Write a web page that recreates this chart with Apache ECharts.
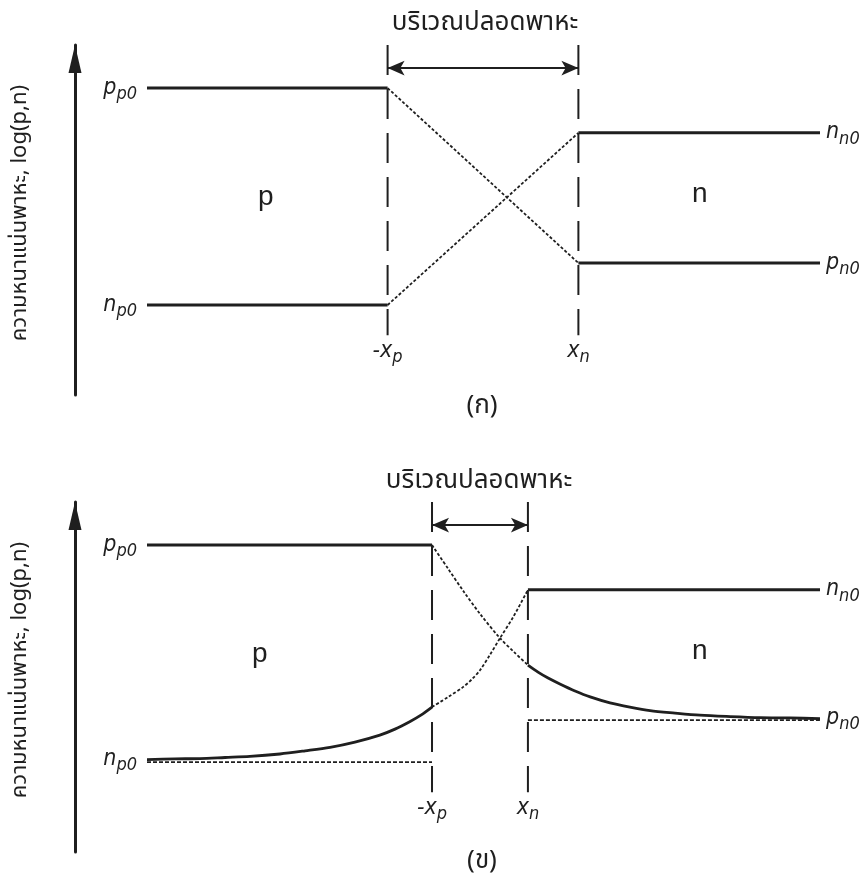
<!DOCTYPE html>
<html><head><meta charset="utf-8">
<script src="https://cdn.jsdelivr.net/npm/echarts@6/dist/echarts.min.js"></script>
<style>html,body{margin:0;padding:0;background:#fff}#c{width:864px;height:876px}</style>
</head><body><div id="c"></div>
<script>
// ---------------- data (x: position units, y: log-concentration units) ----------------
const xRange = [-10, 10];
const yRange = [0, 100];
const panelLabels = ['(ก)', '(ข)'];
const regionTitle = 'บริเวณปลอดพาหะ';
const yAxisTitle = 'ความหนาแน่นพาหะ, log(p,n)';
const levelNames = ['pp0', 'nn0', 'pn0', 'np0'];
const levelValues = [87.7, 74.9, 37.7, 25.7];       // p_p0, n_n0, p_n0, n_p0
const edgesA = [-2.85, 2.82];                        // -x_p, x_n  (panel ก)
const edgesB = [-1.53, 1.32];                        // -x_p, x_n  (panel ข)
const markerLevels = [100, 17.1, 93.4];              // boundary line top, bottom, arrow level
// panel ข: injected minority electrons on the p side
const npCurveX = [-10, -9.17, -8.43, -7.68, -6.94, -6.05, -5.30, -4.56, -3.82, -3.08, -2.63, -2.18, -1.86, -1.53];
const npCurveY = [26.4, 26.6, 26.7, 27.0, 27.3, 28.0, 28.9, 29.9, 31.4, 33.4, 35.1, 37.3, 39.1, 41.4];
// panel ข: injected minority holes on the n side
const pnCurveX = [1.32, 1.62, 1.92, 2.27, 2.72, 3.17, 3.76, 4.35, 4.95, 5.69, 6.43, 7.33, 8.22, 9.11, 10];
const pnCurveY = [53.4, 51.4, 49.7, 48.0, 46.0, 44.3, 42.6, 41.4, 40.4, 39.7, 39.1, 38.7, 38.4, 38.3, 38.1];
// panel ข: inside the depletion region
const pDeplX = [-1.53, -1.05, -0.58, -0.10, 0.49, 0.91, 1.32];
const pDeplY = [87.7, 80.9, 74.3, 68.0, 61.1, 57.1, 53.4];
const nDeplX = [-1.53, -1.05, -0.61, -0.34, -0.10, 0.19, 0.49, 0.88, 1.32];
const nDeplY = [41.4, 44.3, 47.1, 49.4, 52.0, 56.3, 61.1, 67.1, 74.9];

// ---------------- styles ----------------
const INK = '#1f1f1f';
const F = '"Liberation Sans Narrow","DejaVu Sans Condensed","Liberation Sans",sans-serif';
const FS = '"Liberation Sans","DejaVu Sans",sans-serif';
const THAI = '"Noto Sans Thai","Noto Sans Thai Looped","Loma","Garuda","Norasi","Tlwg Typo","Noto Sans",sans-serif';
const solid = {color: INK, width: 3, type: 'solid'};
const curveStyle = {color: INK, width: 2.8, type: 'solid'};
const dotted = {color: INK, width: 1.8, type: [3, 2]};
const fineDash = {color: INK, width: 1.8, type: [4, 2]};
const longDash = {color: INK, width: 2, type: [30, 14]};
const rich = {
  b: {fontSize: 23, fontStyle: 'italic', fontFamily: F, color: INK, lineHeight: 24, verticalAlign: 'top'},
  s: {fontSize: 18, fontStyle: 'italic', fontFamily: F, color: INK, lineHeight: 18, verticalAlign: 'top', padding: [9, 0, 0, 0]}
};
function sym(main, sub) { return '{b|' + main + '}{s|' + sub + '}'; }
const labelText = {pp0: sym('p', 'p0'), nn0: sym('n', 'n0'), pn0: sym('p', 'n0'), np0: sym('n', 'p0')};
const L = {};
levelNames.forEach((k, i) => L[k] = levelValues[i]);

function zip(xs, ys) { return xs.map((x, i) => [x, ys[i]]); }
function pt(x, y, label) {
  const d = {value: [x, y]};
  if (label) d.label = Object.assign({show: true, rich: rich}, label);
  return d;
}
function line(g, data, style, extra) {
  return Object.assign({
    type: 'line', xAxisIndex: g, yAxisIndex: g, data: data,
    symbol: 'circle', symbolSize: 0, showSymbol: true, itemStyle: {color: 'rgba(0,0,0,0)'},
    lineStyle: style, silent: true, animation: false, z: 3,
    label: {show: false}
  }, extra || {});
}
function boundary(g, x, text, arrowTo) {
  const s = line(g, [pt(x, markerLevels[0]), pt(x, markerLevels[1], {position: 'bottom', distance: 4, formatter: text})], longDash);
  if (arrowTo !== undefined) {
    s.markLine = {
      silent: true, animation: false, symbol: ['arrow', 'arrow'], symbolSize: [11, 17],
      lineStyle: {type: 'solid', color: INK, width: 2}, label: {show: false},
      data: [[{coord: [x, markerLevels[2]]}, {coord: [arrowTo, markerLevels[2]]}]]
    };
  }
  return s;
}
const smoothOpt = {smooth: 0.3};

const series = [];
// ---- panel ก ----
series.push(line(0, [pt(xRange[0], L.pp0, {position: 'left', distance: 10, formatter: labelText.pp0}), pt(edgesA[0], L.pp0)], solid));
series.push(line(0, [pt(xRange[0], L.np0, {position: 'left', distance: 10, formatter: labelText.np0}), pt(edgesA[0], L.np0)], solid));
series.push(line(0, [pt(edgesA[1], L.nn0), pt(xRange[1], L.nn0, {position: 'right', distance: 6, formatter: labelText.nn0})], solid));
series.push(line(0, [pt(edgesA[1], L.pn0), pt(xRange[1], L.pn0, {position: 'right', distance: 6, formatter: labelText.pn0})], solid));
series.push(line(0, [pt(edgesA[0], L.pp0), pt(edgesA[1], L.pn0)], dotted));
series.push(line(0, [pt(edgesA[0], L.np0), pt(edgesA[1], L.nn0)], dotted));
series.push(boundary(0, edgesA[0], sym('-x', 'p'), edgesA[1]));
series.push(boundary(0, edgesA[1], sym('x', 'n')));
// ---- panel ข ----
series.push(line(1, [pt(xRange[0], L.pp0, {position: 'left', distance: 10, formatter: labelText.pp0}), pt(edgesB[0], L.pp0)], solid));
series.push(line(1, [pt(edgesB[1], L.nn0), pt(xRange[1], L.nn0, {position: 'right', distance: 6, formatter: labelText.nn0})], solid));
series.push(line(1, [pt(xRange[0], L.np0), pt(edgesB[0], L.np0)], fineDash));
series.push(line(1, [pt(edgesB[1], L.pn0), pt(xRange[1], L.pn0)], fineDash));
const npData = zip(npCurveX, npCurveY).map((p, i) => i === 0 ? pt(p[0], p[1], {position: 'left', distance: 10, formatter: labelText.np0}) : pt(p[0], p[1]));
const pnData = zip(pnCurveX, pnCurveY).map((p, i) => i === pnCurveX.length - 1 ? pt(p[0], p[1], {position: 'right', distance: 6, formatter: labelText.pn0}) : pt(p[0], p[1]));
series.push(line(1, npData, curveStyle, smoothOpt));
series.push(line(1, pnData, curveStyle, smoothOpt));
series.push(line(1, zip(pDeplX, pDeplY).map(p => pt(p[0], p[1])), dotted, smoothOpt));
series.push(line(1, zip(nDeplX, nDeplY).map(p => pt(p[0], p[1])), dotted, smoothOpt));
series.push(boundary(1, edgesB[0], sym('-x', 'p'), edgesB[1]));
series.push(boundary(1, edgesB[1], sym('x', 'n')));

const grids = [
  {left: 147, width: 673, top: 45, height: 350},
  {left: 147, width: 673, top: 502, height: 350}
];
function yAx(g) {
  return {
    type: 'value', gridIndex: g, min: yRange[0], max: yRange[1], offset: 72,
    axisLine: {show: true, onZero: false, symbol: ['none', 'triangle'], symbolSize: [13, 28], symbolOffset: [0, -14],
      lineStyle: {color: INK, width: 3}},
    axisTick: {show: false}, axisLabel: {show: false}, splitLine: {show: false},
    name: yAxisTitle, nameLocation: 'middle', nameRotate: 90, nameGap: 42,
    nameTextStyle: {fontFamily: THAI, fontSize: 22, color: INK, padding: [0, 0, 0, 14]}
  };
}
function xAx(g) {
  return {type: 'value', gridIndex: g, min: xRange[0], max: xRange[1], show: false};
}
const titleText = {fontFamily: THAI, fontSize: 26, fontWeight: 'normal', color: INK};
const panelText = {fontFamily: THAI, fontSize: 26, fontWeight: 'normal', color: INK};
const option = {
  backgroundColor: '#ffffff',
  animation: false,
  grid: grids,
  xAxis: [xAx(0), xAx(1)],
  yAxis: [yAx(0), yAx(1)],
  title: [
    {text: regionTitle, left: 480, top: 7, textAlign: 'center', textStyle: titleText},
    {text: regionTitle, left: 474, top: 465, textAlign: 'center', textStyle: titleText},
    {text: panelLabels[0], left: 477, top: 390, textAlign: 'center', textStyle: panelText},
    {text: panelLabels[1], left: 477, top: 845, textAlign: 'center', textStyle: panelText}
  ],
  graphic: [
    {type: 'text', left: 258, top: 183, style: {text: 'p', font: '28px ' + FS, fill: INK}},
    {type: 'text', left: 692, top: 180, style: {text: 'n', font: '28px ' + FS, fill: INK}},
    {type: 'text', left: 252, top: 640, style: {text: 'p', font: '28px ' + FS, fill: INK}},
    {type: 'text', left: 692, top: 637, style: {text: 'n', font: '28px ' + FS, fill: INK}}
  ],
  series: series
};
const chart = echarts.init(document.getElementById('c'));
chart.setOption(option);
</script>
</body></html>
